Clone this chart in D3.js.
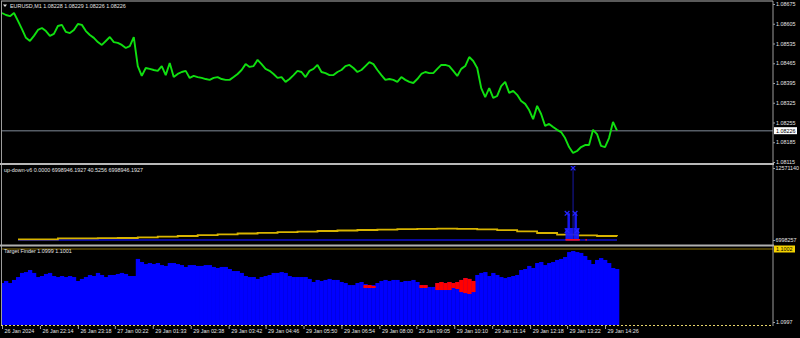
<!DOCTYPE html>
<html lang="en">
<head>
<meta charset="UTF-8">
<title>EURUSD M1</title>
<script src="https://d3js.org/d3.v7.min.js"></script>
<style>
  body { margin: 0; background: #000; overflow: hidden; }
  text { font-family: "Liberation Sans", Arial, sans-serif; font-size: 5.4px; fill: #e4e4e4; }
  .axis .domain { stroke: #9c9c9c; }
  .axis .tick line { stroke: #9c9c9c; }
</style>
</head>
<body>
<div id="chart"></div>
<script>
// one sample every STEP bars (1 bar ~ 1 px)
const STEP = 4

const price = [
  1.08643, 1.08636, 1.08632, 1.08643, 1.08615, 1.08586, 1.08555, 1.08544, 1.08562, 1.08583,
  1.08590, 1.08579, 1.08562, 1.08569, 1.08597, 1.08601, 1.08576, 1.08572, 1.08583, 1.08604,
  1.08601, 1.08579, 1.08565, 1.08555, 1.08540, 1.08530, 1.08544, 1.08558, 1.08540, 1.08537,
  1.08530, 1.08519, 1.08526, 1.08558, 1.08455, 1.08420, 1.08448, 1.08445, 1.08441, 1.08438,
  1.08455, 1.08423, 1.08466, 1.08416, 1.08427, 1.08434, 1.08438, 1.08413, 1.08420, 1.08416,
  1.08413, 1.08409, 1.08406, 1.08413, 1.08416, 1.08409, 1.08406, 1.08406, 1.08416, 1.08427,
  1.08441, 1.08462, 1.08452, 1.08455, 1.08477, 1.08462, 1.08445, 1.08438, 1.08427, 1.08413,
  1.08416, 1.08399, 1.08409, 1.08423, 1.08438, 1.08434, 1.08416, 1.08438, 1.08445, 1.08459,
  1.08434, 1.08430, 1.08423, 1.08423, 1.08434, 1.08441, 1.08455, 1.08459, 1.08448, 1.08434,
  1.08441, 1.08455, 1.08469, 1.08462, 1.08441, 1.08423, 1.08406, 1.08409, 1.08406, 1.08399,
  1.08416, 1.08406, 1.08399, 1.08395, 1.08409, 1.08427, 1.08434, 1.08430, 1.08430, 1.08445,
  1.08459, 1.08459, 1.08455, 1.08438, 1.08420, 1.08445, 1.08455, 1.08487, 1.08473, 1.08448,
  1.08377, 1.08345, 1.08377, 1.08342, 1.08349, 1.08384, 1.08399, 1.08360, 1.08367, 1.08353,
  1.08331, 1.08321, 1.08299, 1.08267, 1.08314, 1.08285, 1.08243, 1.08250, 1.08239, 1.08229,
  1.08221, 1.08200, 1.08168, 1.08147, 1.08154, 1.08168, 1.08175, 1.08175, 1.08229, 1.08214,
  1.08172, 1.08168, 1.08200, 1.08257, 1.08226
]
const bid = 1.08226
const priceTicks = [1.08675, 1.08605, 1.08535, 1.08465, 1.08395, 1.08325, 1.08255, 1.08185, 1.08115]

// up-down-v6 window
const udYellowStart = 16
const udYellowStep = 20
const udYellow = [
  7052438, 7052438, 7129839, 7129839, 7137579, 7153059, 7207240, 7253680, 7307861, 7369782,
  7431703, 7501364, 7555544, 7601985, 7648425, 7694866, 7733567, 7772267, 7803227, 7834188,
  7865148, 7880628, 7865148, 7818708, 7756787, 7663906, 7540064, 7416222, 7354302, 7307861,
  7292381
]
const udBlue = 6998946.1927
const udBars = [565, 566, 567, 568, 569, 570, 571, 573, 574, 575, 576, 577]
const udVals = [7927000, 7927000, 9064900, 9064900, 7927000, 7927000, 7927000, 7927000, 9064900, 9064900, 7927000, 7927000]
const udStemBar = 572
const udMarkBars = [572, 566, 574, 566, 576]
const udMarkVals = [12571140, 9064900, 9064900, 7718100, 7718100]
const udRedBars = [565, 566, 567, 568, 569, 570, 571, 572, 573, 574, 575, 576, 577, 578, 585]
const udTicks = [12571140, 6998257]

// Target Finder window
const target = [
  1.099967, 1.099981, 1.099967, 1.099988, 1.100008, 1.100036, 1.100042, 1.100056, 1.100036, 1.100008,
  1.100015, 1.100029, 1.100036, 1.100015, 1.100008, 1.100015, 1.100008, 1.100015, 1.100008, 1.099981,
  1.099995, 1.100008, 1.100022, 1.100015, 1.100036, 1.100022, 1.100008, 1.100022, 1.100022, 1.100029,
  1.100036, 1.100029, 1.100015, 1.100015, 1.100132, 1.100111, 1.100097, 1.100104, 1.100097, 1.100104,
  1.100090, 1.100084, 1.100104, 1.100104, 1.100097, 1.100090, 1.100077, 1.100090, 1.100090, 1.100084,
  1.100084, 1.100090, 1.100090, 1.100077, 1.100070, 1.100077, 1.100077, 1.100063, 1.100049, 1.100049,
  1.100036, 1.100015, 1.100008, 1.100008, 1.099995, 1.100008, 1.100015, 1.100022, 1.100036, 1.100036,
  1.100042, 1.100036, 1.100015, 1.100008, 1.100008, 1.100008, 1.100008, 1.099995, 1.099974, 1.099988,
  1.099981, 1.099988, 1.099995, 1.099988, 1.099988, 1.099974, 1.099967, 1.099953, 1.099953, 1.099967,
  1.099974, 1.099960, 1.099953, 1.099953, 1.099967, 1.099981, 1.099988, 1.099981, 1.099988, 1.099988,
  1.099974, 1.099981, 1.099981, 1.099988, 1.099974, 1.099953, 1.099953, 1.099940, 1.099940, 1.099967,
  1.099974, 1.099967, 1.099974, 1.099967, 1.099974, 1.099988, 1.100001, 1.099995, 1.099981, 1.100022,
  1.100036, 1.100042, 1.100015, 1.100036, 1.100022, 1.100008, 1.100001, 1.100008, 1.100015, 1.100022,
  1.100056, 1.100063, 1.100084, 1.100070, 1.100104, 1.100111, 1.100090, 1.100104, 1.100111, 1.100125,
  1.100132, 1.100145, 1.100179, 1.100186, 1.100179, 1.100173, 1.100152, 1.100125, 1.100097, 1.100125,
  1.100138, 1.100125, 1.100104, 1.100070, 1.100063
]
const targetRedIdx = [91, 92, 93, 105, 106, 109, 110, 111, 112, 113, 114, 115, 116, 117, 118]
const targetRedTop = [1.099953, 1.099953, 1.099947, 1.099953, 1.099953, 1.099967, 1.099974, 1.099967, 1.099974, 1.099967, 1.099974, 1.099988, 1.100001, 1.099995, 1.099981]
const targetRedBot = [1.099933, 1.099933, 1.099933, 1.099933, 1.099933, 1.099919, 1.099919, 1.099919, 1.099919, 1.099933, 1.099926, 1.099905, 1.099898, 1.099892, 1.099905]
const targetLevel = 1.1002
const targetTicks = [1.0997]

const timeTicks = [0, 38, 76, 113, 151, 189, 227, 264, 302, 340, 378, 415, 453, 491, 529, 566, 604]
const timeLabels = ["26 Jan 2024", "26 Jan 22:14", "26 Jan 23:18", "27 Jan 00:22", "29 Jan 01:33", "29 Jan 02:38",
  "29 Jan 03:42", "29 Jan 04:46", "29 Jan 05:50", "29 Jan 06:54", "29 Jan 08:00", "29 Jan 09:05",
  "29 Jan 10:10", "29 Jan 11:14", "29 Jan 12:18", "29 Jan 13:22", "29 Jan 14:26"]

const width = 800, height = 338
const plotRight = 773

const svg = d3.select("#chart").append("svg")
  .attr("width", width)
  .attr("height", height)
  .style("background", "#000")

const x = d3.scaleLinear().domain([0, 616]).range([2, 617])

const yPrice = d3.scaleLinear().domain([1.08115, 1.08675]).range([162, 4])
const yUd = d3.scaleLinear().domain([6998257.12, 12571140.38]).range([240, 168])
const yTf = d3.scaleLinear().domain([1.0997, 1.1002]).range([322, 249])

const defs = svg.append("defs")
function clip(id, y0, y1) {
  defs.append("clipPath").attr("id", id).append("rect")
    .attr("x", 2).attr("y", y0).attr("width", plotRight - 2).attr("height", y1 - y0)
}
clip("c-top", 1, 163)
clip("c-mid", 166, 244)
clip("c-bot", 247, 325)

// ---- main window ----
const mainG = svg.append("g").attr("clip-path", "url(#c-top)")

mainG.append("line")
  .attr("x1", 2).attr("x2", plotRight)
  .attr("y1", yPrice(bid)).attr("y2", yPrice(bid))
  .attr("stroke", "#565d66").attr("stroke-width", 1.5)

mainG.append("path")
  .datum(price)
  .attr("fill", "none")
  .attr("stroke", "#10e010")
  .attr("stroke-width", 1.9)
  .attr("stroke-linejoin", "bevel")
  .attr("d", d3.line().x((d, i) => x(i * STEP)).y(d => yPrice(d)))

svg.append("path")
  .attr("d", "M3,4.5 L7,4.5 L5,7 Z")
  .attr("fill", "#e4e4e4")
svg.append("text").attr("x", 10).attr("y", 8)
  .text("EURUSD,M1  1.08228 1.08229 1.08226 1.08226")

const priceAxis = svg.append("g")
  .attr("class", "axis")
  .attr("transform", `translate(${plotRight},0)`)
  .call(d3.axisRight(yPrice).tickValues(priceTicks).tickSize(2).tickPadding(1).tickFormat(d3.format(".5f")))
priceAxis.select(".domain").attr("d", "M0,1V163")

svg.append("rect")
  .attr("x", plotRight + 1).attr("y", yPrice(bid) - 3.5)
  .attr("width", 23).attr("height", 7)
  .attr("fill", "#fff")
svg.append("text")
  .attr("x", plotRight + 3).attr("y", yPrice(bid) + 2)
  .style("fill", "#000")
  .text(d3.format(".5f")(bid))

// ---- up-down-v6 ----
const midG = svg.append("g").attr("clip-path", "url(#c-mid)")

midG.append("line")
  .attr("x1", x(udYellowStart)).attr("x2", x(616))
  .attr("y1", yUd(udBlue)).attr("y2", yUd(udBlue))
  .attr("stroke", "#0c0cd0").attr("stroke-width", 1.5)

midG.append("path")
  .datum(udYellow)
  .attr("fill", "none")
  .attr("stroke", "#d8b400")
  .attr("stroke-width", 1.8)
  .attr("d", d3.line().curve(d3.curveStepAfter).x((d, i) => x(udYellowStart + i * udYellowStep)).y(d => yUd(d)))

midG.append("line")
  .attr("x1", x(udStemBar)).attr("x2", x(udStemBar))
  .attr("y1", yUd(udMarkVals[0])).attr("y2", yUd(udBlue))
  .attr("stroke", "#14148c").attr("stroke-width", 1.2)

midG.selectAll(".udbar")
  .data(udBars)
  .join("rect")
  .attr("x", d => x(d) - 0.6)
  .attr("width", 1.4)
  .attr("y", (d, i) => yUd(udVals[i]))
  .attr("height", (d, i) => yUd(udBlue) - yUd(udVals[i]))
  .attr("fill", "#1a1aff")

midG.selectAll(".udred")
  .data(udRedBars)
  .join("rect")
  .attr("x", d => x(d) - 0.6)
  .attr("width", 1.4)
  .attr("y", yUd(udBlue) - 1)
  .attr("height", 1.6)
  .attr("fill", "#ff1010")

midG.selectAll(".udmark")
  .data(udMarkBars)
  .join("path")
  .attr("transform", (d, i) => `translate(${x(d)},${yUd(udMarkVals[i])})`)
  .attr("d", d3.symbol(d3.symbolTimes, 16))
  .attr("fill", "none")
  .attr("stroke", "#2424ff")
  .attr("stroke-width", 1.3)

svg.append("text").attr("x", 4).attr("y", 172)
  .text("up-down-v6 0.0000 6998946.1927 40.5256 6998946.1927")

const udAxis = svg.append("g")
  .attr("class", "axis")
  .attr("transform", `translate(${plotRight},0)`)
  .call(d3.axisRight(yUd).tickValues(udTicks).tickSize(2).tickPadding(0.5).tickFormat(d3.format("d")))
udAxis.select(".domain").attr("d", "M0,165V245")

// ---- Target Finder ----
const botG = svg.append("g").attr("clip-path", "url(#c-bot)")
const barW = x(STEP) - x(0)
const base = 325

botG.selectAll(".tf")
  .data(target)
  .join("rect")
  .attr("x", (d, i) => x(i * STEP) - barW / 2)
  .attr("width", barW + 0.3)
  .attr("y", d => yTf(d))
  .attr("height", d => base - yTf(d))
  .attr("fill", "#0000ff")

botG.selectAll(".tfred")
  .data(targetRedIdx)
  .join("rect")
  .attr("x", d => x(d * STEP) - barW / 2)
  .attr("width", barW + 0.3)
  .attr("y", (d, i) => yTf(targetRedTop[i]))
  .attr("height", (d, i) => yTf(targetRedBot[i]) - yTf(targetRedTop[i]))
  .attr("fill", "#ff0000")

svg.append("line")
  .attr("x1", 2).attr("x2", plotRight)
  .attr("y1", yTf(targetLevel)).attr("y2", yTf(targetLevel))
  .attr("stroke", "#8a7000").attr("stroke-width", 1.2)

svg.append("text").attr("x", 4).attr("y", 253)
  .text("Target Finder 1.0999 1.1001")

const tfAxis = svg.append("g")
  .attr("class", "axis")
  .attr("transform", `translate(${plotRight},0)`)
  .call(d3.axisRight(yTf).tickValues(targetTicks).tickSize(2).tickPadding(1).tickFormat(d3.format(".4f")))
tfAxis.select(".domain").attr("d", "M0,246V326")

svg.append("rect")
  .attr("x", plotRight + 1).attr("y", yTf(targetLevel) - 3.5)
  .attr("width", 21).attr("height", 7)
  .attr("fill", "#f4d200")
svg.append("text")
  .attr("x", plotRight + 3).attr("y", yTf(targetLevel) + 2)
  .style("fill", "#000")
  .text(d3.format(".4f")(targetLevel))

// ---- frames and separators ----
svg.append("line").attr("x1", 1).attr("x2", plotRight).attr("y1", 1).attr("y2", 1)
  .attr("stroke", "#b4b4b4").attr("stroke-width", 1)
svg.append("line").attr("x1", 1.5).attr("x2", 1.5).attr("y1", 1).attr("y2", 326)
  .attr("stroke", "#9c9c9c").attr("stroke-width", 1)
svg.append("line").attr("x1", 0).attr("x2", plotRight + 1).attr("y1", 164).attr("y2", 164)
  .attr("stroke", "#b8b8b8").attr("stroke-width", 2)
svg.append("line").attr("x1", 0).attr("x2", plotRight + 1).attr("y1", 245.5).attr("y2", 245.5)
  .attr("stroke", "#b0b0b0").attr("stroke-width", 2)

// ---- time axis ----
svg.append("line").attr("x1", 1).attr("x2", plotRight).attr("y1", 325.5).attr("y2", 325.5)
  .attr("stroke", "#e8d66a").attr("stroke-width", 1).attr("stroke-dasharray", "2,2")

const timeAxis = svg.append("g")
  .attr("class", "axis")
  .attr("transform", "translate(0,326)")
  .call(d3.axisBottom(x).tickValues(timeTicks).tickSize(3).tickFormat((d, i) => timeLabels[i]))
timeAxis.select(".domain").remove()
timeAxis.selectAll(".tick text")
  .attr("text-anchor", "start")
  .attr("x", 2)
  .attr("y", 3)
  .attr("dy", "0.71em")
svg.selectAll(".axis text").style("fill", "#e4e4e4").style("font-size", "5.4px")
  .style("font-family", "\"Liberation Sans\", Arial, sans-serif")
</script>
</body>
</html>
